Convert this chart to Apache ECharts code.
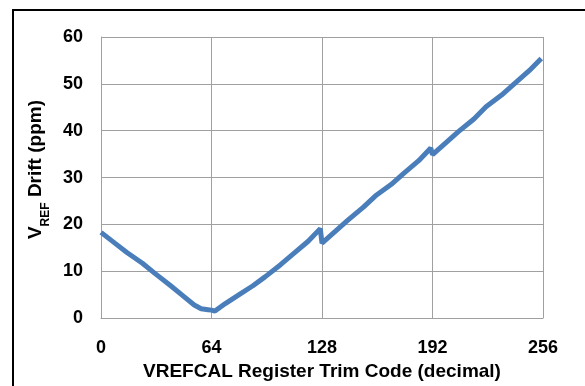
<!DOCTYPE html>
<html>
<head>
<meta charset="utf-8">
<script src="https://cdn.jsdelivr.net/npm/echarts@6/dist/echarts.min.js"></script>
<style>
  html, body { margin: 0; padding: 0; background: #fff; }
  #chart { width: 585px; height: 386px; }
</style>
</head>
<body>
<div id="chart"></div>
<script>
// trim code vs drift
var trimCodes = [0, 8, 15, 16, 24, 31, 32, 40, 47, 48, 54, 58, 62, 64, 66, 72, 80, 88, 95, 96,
  104, 111, 112, 120, 127, 128, 136, 143, 144, 152, 159, 160, 168, 175, 176, 184, 191, 192,
  200, 207, 208, 216, 223, 224, 232, 239, 240, 248, 255]
var driftPpm = [18.3, 16.0, 14.0, 13.9, 11.7, 9.6, 9.3, 7.0, 4.9, 4.7, 2.8, 2.0, 1.8, 1.7, 1.5, 3.1, 5.0, 6.9, 8.8, 9.0,
  11.4, 13.6, 13.8, 16.4, 19.1, 16.0, 18.6, 20.9, 21.1, 23.7, 26.1, 25.9, 28.5, 30.8, 30.9, 33.6, 36.3, 34.9,
  37.5, 39.8, 39.9, 42.5, 45.1, 44.9, 47.6, 49.9, 50.1, 52.8, 55.4]
var xTicks = [0, 64, 128, 192, 256]
var yTicks = [0, 10, 20, 30, 40, 50, 60]

var font = 'Liberation Sans, Arial, sans-serif'
var gridColor = '#a0a0a0'

var dom = echarts.init(document.getElementById('chart'))
var option = {
  animation: false,
  graphic: [{
    type: 'rect',
    shape: { x: 13, y: 10, width: 640, height: 440 },
    style: { fill: 'none', stroke: '#000', lineWidth: 2 },
    silent: true
  }],
  grid: { left: 101, top: 37, right: 42, bottom: 63 },
  xAxis: {
    type: 'value',
    min: xTicks[0],
    max: xTicks[xTicks.length - 1],
    interval: 64,
    name: 'VREFCAL Register Trim Code (decimal)',
    nameLocation: 'middle',
    nameGap: 40,
    nameTextStyle: { fontFamily: font, fontWeight: 'bold', fontSize: 19, color: '#000' },
    axisLine: { show: true, lineStyle: { color: gridColor, width: 1 } },
    axisTick: { show: false },
    axisLabel: { margin: 21, fontFamily: font, fontWeight: 'bold', fontSize: 18, color: '#000' },
    splitLine: { show: true, lineStyle: { color: gridColor, width: 1 } }
  },
  yAxis: {
    type: 'value',
    min: yTicks[0],
    max: yTicks[yTicks.length - 1],
    interval: 10,
    name: '{v|V}{s|REF}{v| Drift (ppm)}',
    nameLocation: 'middle',
    nameGap: 46,
    nameRotate: 90,
    nameTextStyle: {
      fontFamily: font, fontWeight: 'bold', fontSize: 19, color: '#000',
      padding: [0, 0, 0, 16],
      rich: {
        v: { fontFamily: font, fontWeight: 'bold', fontSize: 19, color: '#000', lineHeight: 20, verticalAlign: 'top' },
        s: { fontFamily: font, fontWeight: 'bold', fontSize: 12, color: '#000', lineHeight: 13, padding: [14, 0, 0, 0], verticalAlign: 'top' }
      }
    },
    axisLine: { show: true, lineStyle: { color: gridColor, width: 1 } },
    axisTick: { show: false },
    axisLabel: { margin: 18, fontFamily: font, fontWeight: 'bold', fontSize: 18, color: '#000' },
    splitLine: { show: true, lineStyle: { color: gridColor, width: 1 } }
  },
  series: [{
    type: 'line',
    data: trimCodes.map(function (c, i) { return [c, driftPpm[i]] }),
    showSymbol: false,
    lineStyle: { color: '#4a7ebb', width: 5 },
    clip: false
  }]
}
dom.setOption(option)
</script>
</body>
</html>
